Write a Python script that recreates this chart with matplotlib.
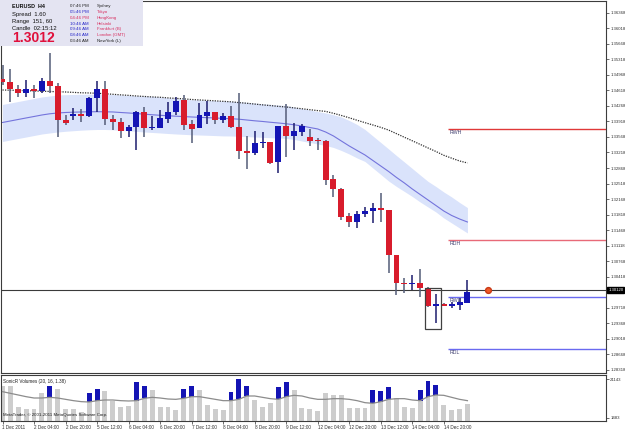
import matplotlib
matplotlib.use("Agg")
import matplotlib.pyplot as plt
from matplotlib.patches import Rectangle
from matplotlib.transforms import blended_transform_factory

plt.rcParams['font.family'] = ['Liberation Sans', 'DejaVu Sans']

# ---------------- data (EURUSD H4) ----------------
OPEN = [1.34867, 1.34813, 1.34642, 1.34552, 1.34642, 1.34597, 1.34822, 1.34717, 1.33951, 1.34041,
        1.34086, 1.34041, 1.34439, 1.34642, 1.33973, 1.33912, 1.33703, 1.33786, 1.34138, 1.33777,
        1.33777, 1.33973, 1.34138, 1.34401, 1.33860, 1.33764, 1.34047, 1.34124, 1.33951, 1.34047,
        1.33800, 1.33259, 1.33214, 1.33426, 1.33448, 1.32998, 1.33822, 1.33590, 1.33687, 1.33561,
        1.33500, 1.33484, 1.32615, 1.32389, 1.31788, 1.31659, 1.31826, 1.31907, 1.31975, 1.31923,
        1.30909, 1.30278, 1.30249, 1.30271, 1.30159, 1.29760, 1.29805, 1.29760, 1.29783, 1.29834]
HIGH = [1.35190, 1.35093, 1.34739, 1.34852, 1.34739, 1.34904, 1.35453, 1.34791, 1.34063, 1.34214,
        1.34198, 1.34475, 1.34836, 1.34836, 1.34063, 1.33989, 1.33838, 1.34153, 1.34250, 1.34041,
        1.34176, 1.34363, 1.34475, 1.34514, 1.33951, 1.34327, 1.34379, 1.34131, 1.34108, 1.34266,
        1.34552, 1.33590, 1.33703, 1.33687, 1.33455, 1.33822, 1.34311, 1.33890, 1.33854, 1.33741,
        1.33538, 1.33500, 1.32711, 1.32412, 1.31862, 1.31900, 1.31997, 1.32087, 1.32313, 1.31923,
        1.30909, 1.30384, 1.30458, 1.30587, 1.30195, 1.30024, 1.29816, 1.29857, 1.29933, 1.30346]
LOW = [1.34739, 1.34363, 1.34475, 1.34462, 1.34439, 1.34552, 1.34566, 1.33574, 1.33838, 1.33951,
       1.33912, 1.34011, 1.34138, 1.33838, 1.33725, 1.33538, 1.33574, 1.33275, 1.33561, 1.33714,
       1.33764, 1.33876, 1.34063, 1.33725, 1.33439, 1.33759, 1.33854, 1.33854, 1.33876, 1.33764,
       1.33065, 1.32840, 1.33162, 1.33326, 1.32952, 1.32750, 1.33110, 1.33275, 1.33590, 1.33365,
       1.33275, 1.32486, 1.32223, 1.31698, 1.31547, 1.31511, 1.31758, 1.31623, 1.31659, 1.30497,
       1.30008, 1.30046, 1.30120, 1.29969, 1.29744, 1.29370, 1.29749, 1.29708, 1.29670, 1.29821]
CLOSE = [1.34807, 1.34642, 1.34566, 1.34649, 1.34597, 1.34822, 1.34717, 1.33951, 1.33876, 1.34086,
         1.34041, 1.34453, 1.34642, 1.33966, 1.33912, 1.33709, 1.33786, 1.34138, 1.33770, 1.33793,
         1.33989, 1.34138, 1.34379, 1.33838, 1.33755, 1.34063, 1.34124, 1.33951, 1.34047, 1.33786,
         1.33259, 1.33214, 1.33439, 1.33448, 1.32989, 1.33822, 1.33590, 1.33703, 1.33822, 1.33484,
         1.33477, 1.32599, 1.32389, 1.31772, 1.31659, 1.31833, 1.31900, 1.31961, 1.31930, 1.30909,
         1.30285, 1.30249, 1.30278, 1.30159, 1.29760, 1.29805, 1.29767, 1.29805, 1.29843, 1.30080]

# Sonic R dragon (EMA band high/low, EMA close) and slow EMA (dotted)
BAND_UP = [1.34300, 1.34333, 1.34367, 1.34401, 1.34435, 1.34469, 1.34491, 1.34514, 1.34520, 1.34525,
           1.34529, 1.34529, 1.34529, 1.34527, 1.34523, 1.34514, 1.34505, 1.34496, 1.34491, 1.34484,
           1.34469, 1.34451, 1.34435, 1.34419, 1.34406, 1.34401, 1.34394, 1.34385, 1.34379, 1.34372,
           1.34363, 1.34349, 1.34333, 1.34315, 1.34302, 1.34288, 1.34277, 1.34243, 1.34207, 1.34176,
           1.34140, 1.34108, 1.34068, 1.34018, 1.33939, 1.33849, 1.33736, 1.33590, 1.33444, 1.33297,
           1.33148, 1.33004, 1.32858, 1.32711, 1.32567, 1.32452, 1.32328, 1.32216, 1.32092, 1.31977]
BAND_LO = [1.33466, 1.33500, 1.33534, 1.33567, 1.33601, 1.33635, 1.33658, 1.33680, 1.33696, 1.33709,
           1.33721, 1.33730, 1.33736, 1.33736, 1.33730, 1.33718, 1.33707, 1.33694, 1.33680, 1.33669,
           1.33658, 1.33646, 1.33635, 1.33626, 1.33617, 1.33612, 1.33606, 1.33599, 1.33592, 1.33590,
           1.33583, 1.33576, 1.33567, 1.33558, 1.33552, 1.33545, 1.33536, 1.33511, 1.33477, 1.33444,
           1.33410, 1.33376, 1.33331, 1.33263, 1.33184, 1.33094, 1.33015, 1.32869, 1.32723, 1.32576,
           1.32452, 1.32340, 1.32227, 1.32103, 1.31990, 1.31878, 1.31743, 1.31630, 1.31517, 1.31405]
BAND_MID = [1.33894, 1.33928, 1.33962, 1.33996, 1.34029, 1.34063, 1.34090, 1.34108, 1.34119, 1.34126,
            1.34131, 1.34135, 1.34137, 1.34135, 1.34131, 1.34119, 1.34108, 1.34095, 1.34081, 1.34068,
            1.34056, 1.34045, 1.34036, 1.34027, 1.34018, 1.34011, 1.34002, 1.33996, 1.33986, 1.33980,
            1.33968, 1.33950, 1.33932, 1.33917, 1.33899, 1.33883, 1.33865, 1.33842, 1.33815, 1.33781,
            1.33748, 1.33680, 1.33590, 1.33477, 1.33365, 1.33263, 1.33162, 1.33038, 1.32914, 1.32790,
            1.32655, 1.32531, 1.32396, 1.32272, 1.32148, 1.32024, 1.31900, 1.31799, 1.31720, 1.31652]
SLOW_EMA = [1.34626, 1.34622, 1.34615, 1.34611, 1.34604, 1.34599, 1.34593, 1.34586, 1.34581, 1.34572,
            1.34563, 1.34559, 1.34552, 1.34541, 1.34529, 1.34516, 1.34505, 1.34491, 1.34480, 1.34469,
            1.34462, 1.34448, 1.34437, 1.34426, 1.34412, 1.34401, 1.34392, 1.34381, 1.34370, 1.34360,
            1.34342, 1.34327, 1.34309, 1.34291, 1.34275, 1.34257, 1.34243, 1.34223, 1.34203, 1.34182,
            1.34162, 1.34144, 1.34101, 1.34052, 1.34000, 1.33944, 1.33890, 1.33838, 1.33784, 1.33723,
            1.33642, 1.33561, 1.33482, 1.33401, 1.33320, 1.33241, 1.33155, 1.33090, 1.33027, 1.32982]

VOLUME = [17700, 17700, 6810, 5790, 5790, 13980, 17720, 16180, 5790, 5790,
          4560, 14290, 16030, 15160, 10040, 6810, 7480, 19920, 17870, 15670,
          7120, 7120, 5430, 16180, 17720, 15670, 7990, 5790, 5430, 14490,
          21143, 17720, 10550, 7120, 8860, 17360, 19610, 15670, 6300, 5790,
          5070, 14290, 13110, 13110, 6300, 6300, 6610, 15670, 15310, 17050,
          11420, 6810, 6300, 15670, 20280, 18230, 7990, 5430, 5790, 8500]
VOL_MA = [14820, 13960, 13110, 12250, 11570, 11570, 11910, 11570, 10890, 10210,
          9700, 9520, 10210, 10550, 10550, 10210, 10040, 10210, 11400, 11910,
          11570, 11060, 10890, 11400, 12250, 12250, 11570, 10890, 10210, 10210,
          10890, 12600, 12600, 11910, 11230, 10890, 12250, 12940, 12600, 11570,
          10890, 10890, 11230, 11230, 10890, 10210, 9180, 8840, 9700, 10890,
          11230, 11230, 10550, 10210, 12250, 13110, 12940, 11910, 10890, 10210]
HIGH_VOL_BARS = [6, 11, 12, 17, 18, 23, 24, 29, 30, 31, 35, 36, 47, 48, 49, 53, 54, 55]

TIME_BARS = [0, 4, 8, 12, 16, 20, 24, 28, 32, 36, 40, 44, 48, 52, 56]
TIME_LABELS = ["1 Dec 2011", "2 Dec 04:00", "2 Dec 20:00", "5 Dec 12:00", "6 Dec 04:00",
               "6 Dec 20:00", "7 Dec 12:00", "8 Dec 04:00", "8 Dec 20:00", "9 Dec 12:00",
               "12 Dec 04:00", "12 Dec 20:00", "13 Dec 12:00", "14 Dec 04:00", "14 Dec 20:00"]
PRICE_TICKS = [1.28318, 1.28668, 1.29018, 1.29368, 1.29718, 1.30418, 1.30768, 1.31118,
               1.31468, 1.31818, 1.32168, 1.32518, 1.32868, 1.33218, 1.33568, 1.33918,
               1.34268, 1.34618, 1.34968, 1.35318, 1.35668, 1.36018, 1.36368]
VOL_TICKS = [21143, 1483]

LEVEL_NAMES = ["RWH", "RDH", "RWL", "RDL"]
LEVEL_VALUES = [1.33741, 1.31247, 1.29969, 1.28784]
LEVEL_COLORS = ["#e03838", "#e86a78", "#6a6af0", "#6a6af0"]
LEVEL_START_BAR = 56.5

BID = 1.30120
MARKER_BAR = 61.6
ZONE_BARS = (53.6, 55.65)
ZONE_PRICES = (1.29242, 1.30165)

INFO_LEFT = ["EURUSD  H4", "Spread  1.60", "Range  151, 60", "Candle  02:15:12"]
INFO_PRICE = "1.3012"
CLOCK_TIMES = ["07:46 PM", "05:46 PM", "04:46 PM", "10:46 AM", "09:46 AM", "08:46 AM", "03:46 AM"]
CLOCK_CITIES = ["Sydney", "Tokyo", "HongKong", "Helsinki", "Frankfurt (B)", "London (GMT)", "NewYork (L)"]
TIME_COLORS = ["#202020", "#2424c8", "#d83060", "#2424c8", "#2424c8", "#2424c8", "#202020"]
CITY_COLORS = ["#202020", "#d83060", "#d83060", "#d83060", "#d83060", "#d83060", "#202020"]

# ---------------- layout ----------------
W, H = 625, 429
fig = plt.figure(figsize=(W / 100, H / 100), dpi=100)
fig.patch.set_facecolor("white")

L_PX, R_PX = 1, 606
MAIN_TOP, MAIN_BOT = 1, 373
VOL_TOP, VOL_BOT = 375, 421
BAR0_PX, PITCH = 2.5, 7.88

ax = fig.add_axes([L_PX / W, 1 - MAIN_BOT / H, (R_PX - L_PX) / W, (MAIN_BOT - MAIN_TOP) / H])
axv = fig.add_axes([L_PX / W, 1 - VOL_BOT / H, (R_PX - L_PX) / W, (VOL_BOT - VOL_TOP) / H])

xlim = ((L_PX - BAR0_PX) / PITCH, (R_PX - BAR0_PX) / PITCH)
for a in (ax, axv):
    a.set_xlim(*xlim)
    a.set_facecolor("white")
    for s in a.spines.values():
        s.set_color("#3c3c3c")
        s.set_linewidth(0.8)
ax.set_ylim(1.28250, 1.36631)
axv.set_ylim(-205, 23348)

RED = "#d81c2c"
BLUE = "#1414b4"

idx = list(range(len(OPEN)))

# dragon band
ax.fill_between(idx, BAND_LO, BAND_UP, color="#dae3fb", lw=0, zorder=1)
ax.plot(idx, BAND_MID, color="#7474dc", lw=0.8, zorder=2)
ax.plot(idx, SLOW_EMA, color="#303030", lw=0.9, ls=(0, (1, 1)), zorder=2)

# bid line
ax.axhline(BID, color="#3a3a3a", lw=0.8, zorder=2)

# levels
for name, val, col in zip(LEVEL_NAMES, LEVEL_VALUES, LEVEL_COLORS):
    ax.hlines(val, LEVEL_START_BAR, xlim[1], color=col, lw=1.0, zorder=2)
    ax.annotate(name, xy=(LEVEL_START_BAR + 0.3, val), xytext=(0, -2.6),
                textcoords="offset points", fontsize=3.8, color="#404070",
                ha="left", va="center", zorder=6)

# candles
for i, (o, h, l, c) in enumerate(zip(OPEN, HIGH, LOW, CLOSE)):
    up = c >= o
    col = BLUE if up else RED
    wick = "#1c1c6e" if up else "#545c78"
    ax.vlines(i, l, h, color=wick, lw=1.1, zorder=3)
    hgt = abs(c - o)
    bot = min(o, c)
    if hgt < 0.0003:
        bot = (o + c) / 2 - 0.00015
        hgt = 0.0003
    ax.bar(i, hgt, bottom=bot, width=0.76, color=col, lw=0, zorder=4)

# zone rectangle and marker
ax.add_patch(Rectangle((ZONE_BARS[0], ZONE_PRICES[0]), ZONE_BARS[1] - ZONE_BARS[0],
                       ZONE_PRICES[1] - ZONE_PRICES[0], fill=False, ec="#404040", lw=0.9, zorder=5))
ax.plot([MARKER_BAR], [BID], "o", color="#f05a28", mec="#c83a18", ms=4.2, zorder=6, clip_on=False)

# price axis
ax.set_xticks([])
ax.yaxis.tick_right()
ax.set_yticks(PRICE_TICKS)
ax.set_yticklabels(["%.5f" % v for v in PRICE_TICKS], fontsize=3.1, color="#202020")
ax.tick_params(axis="y", length=2, width=0.5, pad=1, colors="#303030")
trans = blended_transform_factory(ax.transAxes, ax.transData)
ax.annotate("%.5f" % BID, xy=(1.0, BID), xycoords=trans, xytext=(1.6, 0),
            textcoords="offset points", fontsize=3.1, color="white", ha="left", va="center",
            bbox=dict(boxstyle="square,pad=0.2", fc="black", ec="black"), annotation_clip=False)

# volumes
axv.bar(idx, VOLUME, width=0.62, color="#cdcdcd", lw=0, zorder=2)
for i in HIGH_VOL_BARS:
    axv.bar(i, VOLUME[i] - VOL_MA[i], bottom=VOL_MA[i], width=0.62, color=BLUE, lw=0, zorder=3)
axv.plot(idx, VOL_MA, color="#8c8c8c", lw=0.9, zorder=4)
axv.yaxis.tick_right()
axv.set_yticks(VOL_TICKS)
axv.set_yticklabels([str(v) for v in VOL_TICKS], fontsize=3.1, color="#202020")
axv.tick_params(axis="y", length=2, width=0.5, pad=1, colors="#303030")
axv.set_xticks(TIME_BARS)
axv.set_xticklabels(TIME_LABELS, fontsize=3.3, ha="left", color="#202020")
axv.tick_params(axis="x", length=2, width=0.5, pad=0.6, colors="#303030")
axv.text(0.004, 0.86, "SonicR Volumes (20, 16, 1.38)", transform=axv.transAxes,
         fontsize=3.3, color="#202020", ha="left", va="center", zorder=6)
axv.text(0.003, 0.13, "MetaTrader, \u00a9 2001-2011 MetaQuotes Software Corp.",
         transform=axv.transAxes, fontsize=3.2, color="#202020", ha="left", va="center", zorder=6)

# info panel
fig.add_artist(Rectangle((0, 1 - 46 / H), 143 / W, 46 / H, transform=fig.transFigure,
                         fc="#e4e4f2", ec="none", zorder=5))
left_y = [6, 14.3, 21.2, 28.2]
for k, t in enumerate(INFO_LEFT):
    fig.text(12 / W, 1 - left_y[k] / H, t, fontsize=3.9 if k == 0 else 4.2,
             fontweight="bold" if k == 0 else "normal", color="#101010",
             ha="left", va="center", zorder=6)
fig.text(12 / W, 1 - 38.5 / H, INFO_PRICE, fontsize=10, fontweight="bold",
         color="#e0103c", ha="left", va="center", zorder=6)
clock_y = [6, 12.3, 18, 23.7, 29.3, 35, 41]
for k in range(len(CLOCK_TIMES)):
    fig.text(70 / W, 1 - clock_y[k] / H, CLOCK_TIMES[k], fontsize=3.2, color=TIME_COLORS[k],
             ha="left", va="center", zorder=6)
    fig.text(97 / W, 1 - clock_y[k] / H, CLOCK_CITIES[k], fontsize=3.2, color=CITY_COLORS[k],
             ha="left", va="center", zorder=6)

fig.savefig("out.png", dpi=100)
